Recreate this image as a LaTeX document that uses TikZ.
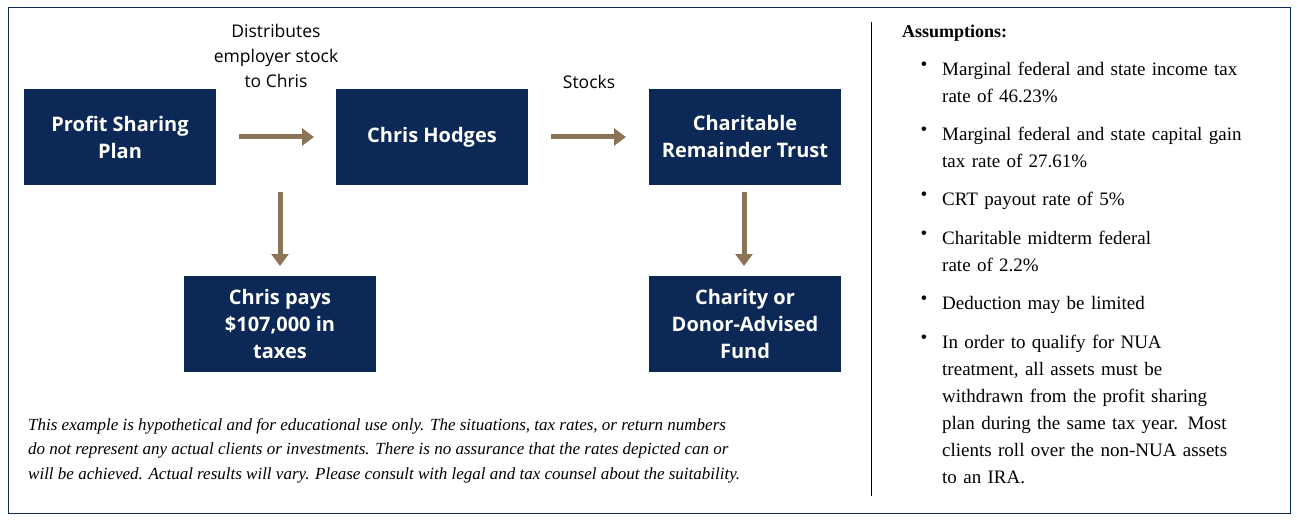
\documentclass[tikz,border=0pt]{standalone}
\usepackage{fontspec}
\setmainfont{Liberation Serif}
\setsansfont{Open Sans}
\usetikzlibrary{arrows.meta,positioning}
\definecolor{Navy}{RGB}{12,40,86}
\definecolor{Tan}{RGB}{139,115,85}
\tikzset{
  planbox/.style={fill=Navy, text=white, minimum width=192pt, minimum height=96pt,
    align=center, font=\sffamily\bfseries\fontsize{20}{27}\selectfont},
  flowarrow/.style={Tan, line width=5pt, -{Triangle[length=12pt,width=17pt]}},
  flowlabel/.style={align=center, font=\sffamily\fontsize{17.5}{25}\selectfont},
  bullet/.style={anchor=north west, text width=340pt, align=left, inner sep=0pt,
    font=\fontsize{19}{27}\selectfont}
}
\begin{document}
\begin{tikzpicture}[x=1pt,y=-1pt]
      \useasboundingbox (0,0) rectangle (1297,521);
      \draw[Navy, line width=1pt] (8,8) rectangle (1290,513);
      % flow boxes
      \node[planbox] (plan) at (120,137) {Profit Sharing\\Plan};
      \node[planbox] (chris) at (432,137) {Chris Hodges};
      \node[planbox] (crt) at (745,137) {Charitable\\Remainder Trust};
      \node[planbox] (taxes) at (280,324) {Chris pays\\\$107,000 in\\taxes};
      \node[planbox] (charity) at (745,324) {Charity or\\Donor-Advised\\Fund};
      \coordinate (a1) at (239,137); \coordinate (a2) at (314,137);
      \coordinate (b1) at (551,137); \coordinate (b2) at (626,137);
      \coordinate (c1) at (280,192); \coordinate (c2) at (280,266);
      \coordinate (d1) at (744,192); \coordinate (d2) at (744,266);
      \draw[flowarrow] (a1) -- (a2);
      \draw[flowarrow] (b1) -- (b2);
      \draw[flowarrow] (c1) -- (c2);
      \draw[flowarrow] (d1) -- (d2);
      \node[flowlabel] (distlabel) at (276,56) {Distributes\\employer stock\\to Chris};
      \node[flowlabel] (stocklabel) at (589,82) {Stocks};
      % disclaimer
      \node[anchor=north west, inner sep=0pt, align=left,
        font=\itshape\fontsize{17}{24.8}\selectfont] (note) at (28,418)
        {This example is hypothetical and for educational use only. The situations, tax rates, or return numbers\\
         do not represent any actual clients or investments. There is no assurance that the rates depicted can or\\
         will be achieved. Actual results will vary. Please consult with legal and tax counsel about the suitability.};
      % assumptions
      \coordinate (s1) at (871,22); \coordinate (s2) at (871,496);
      \draw[line width=0.8pt] (s1) -- (s2);
      \node[anchor=west, inner sep=0pt, font=\bfseries\fontsize{18}{22}\selectfont] (asm) at (902,33) {Assumptions:};
      \foreach \y/\t in {62/{Marginal federal and state income tax\\rate of 46.23\%},
                         127/{Marginal federal and state capital gain\\tax rate of 27.61\%},
                         192/{CRT payout rate of 5\%},
                         231/{Charitable midterm federal\\rate of 2.2\%},
                         296/{Deduction may be limited},
                         335/{In order to qualify for NUA\\treatment, all assets must be\\withdrawn from the profit sharing\\plan during the same tax year. Most\\clients roll over the non-NUA assets\\to an IRA.}}{
        \node[bullet] at (942,\y) {\t};
        \node[anchor=north, inner sep=0pt, font=\fontsize{19}{27}\selectfont] at (924,\y) {\textbullet};
      }
\end{tikzpicture}
\end{document}
